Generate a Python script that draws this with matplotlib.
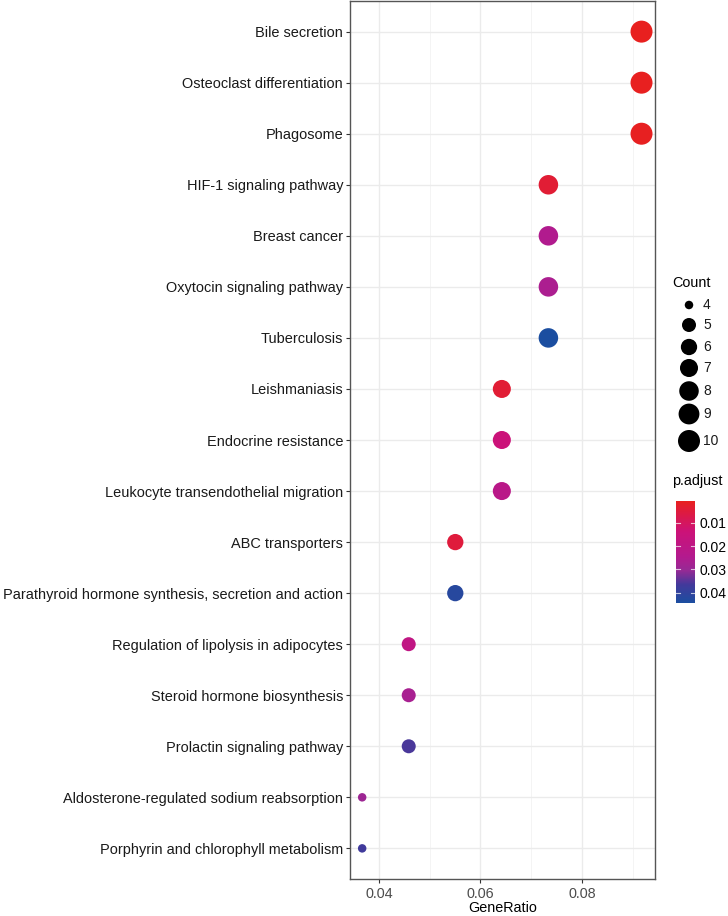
import numpy as np
import matplotlib
matplotlib.use("Agg")
import matplotlib.pyplot as plt
from matplotlib.colors import LinearSegmentedColormap, Normalize
from matplotlib.ticker import MultipleLocator

plt.rcParams['font.family'] = ['Liberation Sans', 'DejaVu Sans']

pathways = [
    "Bile secretion",
    "Osteoclast differentiation",
    "Phagosome",
    "HIF-1 signaling pathway",
    "Breast cancer",
    "Oxytocin signaling pathway",
    "Tuberculosis",
    "Leishmaniasis",
    "Endocrine resistance",
    "Leukocyte transendothelial migration",
    "ABC transporters",
    "Parathyroid hormone synthesis, secretion and action",
    "Regulation of lipolysis in adipocytes",
    "Steroid hormone biosynthesis",
    "Prolactin signaling pathway",
    "Aldosterone-regulated sodium reabsorption",
    "Porphyrin and chlorophyll metabolism",
]
counts = [10, 10, 10, 8, 8, 8, 8, 7, 7, 7, 6, 6, 5, 5, 5, 4, 4]
total_genes = 109
p_adjust = [0.0006, 0.0008, 0.0010, 0.0040, 0.0250, 0.0260, 0.0445, 0.0040,
            0.0140, 0.0220, 0.0050, 0.0420, 0.0190, 0.0270, 0.0360, 0.0290, 0.0370]
legend_counts = [4, 5, 6, 7, 8, 9, 10]
cbar_ticks = [0.01, 0.02, 0.03, 0.04]

gene_ratio = np.array(counts) / total_genes
counts = np.array(counts)

cmap = LinearSegmentedColormap.from_list(
    "padj", [(0.0, "#E8201F"), (0.3, "#CC1278"), (0.55, "#B31A8E"),
             (0.68, "#962A95"), (0.82, "#43399B"), (1.0, "#1B4EA0")])
norm = Normalize(vmin=min(p_adjust), vmax=max(p_adjust))

cmin, cmax = counts.min(), counts.max()
def dot_size(c):
    # diameter in px (area-type scale like ggplot), then points^2
    d = 8.5 + 13.5 * np.sqrt((np.asarray(c) - cmin) / (cmax - cmin))
    return (d * 0.72) ** 2

fig = plt.figure(figsize=(7.28, 9.16), dpi=100)
W, H = 728, 916
ax = fig.add_axes([350 / W, 1 - 879 / H, 305 / W, 878 / H])

y = np.arange(len(pathways))[::-1]
ax.scatter(gene_ratio, y, s=dot_size(counts), c=p_adjust, cmap=cmap, norm=norm,
           edgecolors="none", zorder=3)

ax.set_yticks(y)
ax.set_yticklabels(pathways, fontsize=10.45, color="#1a1a1a")
ax.set_ylim(-0.6, len(pathways) - 0.4)
ax.set_xlim(0.0343, 0.0944)
ax.xaxis.set_minor_locator(MultipleLocator(0.01))
ax.set_xticks([0.04, 0.06, 0.08])
ax.set_xticklabels(["0.04", "0.06", "0.08"], fontsize=10.4, color="#4d4d4d")
ax.set_xlabel("GeneRatio", fontsize=10.4, labelpad=0)
ax.grid(True, which="major", color="#EBEBEB", linewidth=1.0, zorder=0)
ax.grid(True, which="minor", axis="x", color="#F2F2F2", linewidth=0.6, zorder=0)
ax.set_axisbelow(True)
ax.tick_params(axis="both", which="major", length=3, color="#333333", width=0.8, pad=3)
ax.tick_params(axis="y", which="major", pad=2)
ax.tick_params(axis="x", which="minor", length=0)
for sp in ax.spines.values():
    sp.set_color("#555555")
    sp.set_linewidth(1.0)

# Count legend
lax = fig.add_axes([660 / W, 1 - 460 / H, 68 / W, 200 / H])
lax.set_xlim(660, 728)
lax.set_ylim(460, 260)
lax.axis("off")
legend_y = [305, 325, 347, 368, 391, 414, 441]
lax.scatter([689] * len(legend_counts), legend_y, s=dot_size(legend_counts),
            color="black", edgecolors="none")
for c, yy in zip(legend_counts, legend_y):
    lax.text(703, yy, str(c), va="center", ha="left", fontsize=10, color="#1a1a1a")
lax.text(672, 283, "Count", va="center", ha="left", fontsize=10.4)

# p.adjust colorbar
cax = fig.add_axes([676 / W, 1 - 603 / H, 19 / W, 102 / H])
sm = plt.cm.ScalarMappable(cmap=cmap, norm=norm)
cb = fig.colorbar(sm, cax=cax, ticks=cbar_ticks)
cb.ax.invert_yaxis()
cb.outline.set_visible(False)
cb.ax.tick_params(length=0, labelsize=10, pad=3)
cb.ax.set_yticklabels(["0.01", "0.02", "0.03", "0.04"])
for t in cbar_ticks:
    cb.ax.plot([0, 0.2], [t, t], color="white", lw=0.8, alpha=0.7)
    cb.ax.plot([0.8, 1], [t, t], color="white", lw=0.8, alpha=0.7)
fig.text(672 / W, 1 - 481 / H, "p.adjust", va="center", ha="left", fontsize=10.4)

fig.savefig("out.png", dpi=100)
